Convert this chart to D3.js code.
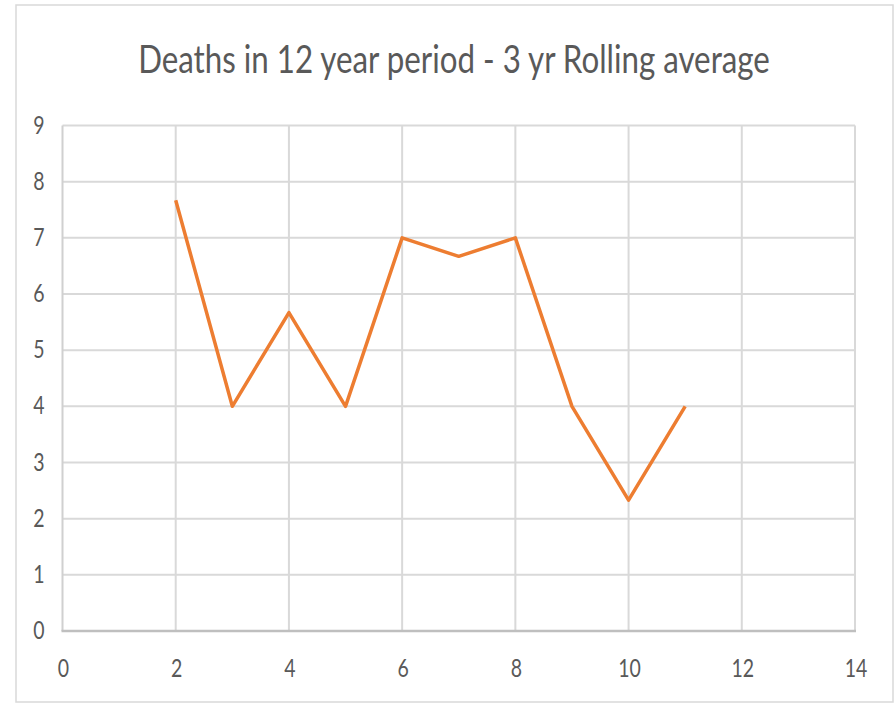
<!DOCTYPE html>
<html>
<head>
<meta charset="utf-8">
<script src="https://cdn.jsdelivr.net/npm/d3@7"></script>
<style>
  html, body { margin: 0; padding: 0; background: #fff; }
  svg { display: block; }
  text { font-family: Lato, "Open Sans", sans-serif; fill: #595959; }
</style>
</head>
<body>
<svg id="chart" width="894" height="704"></svg>
<script>
const titleText = "Deaths in 12 year period - 3 yr Rolling average";
const xValues = [2, 3, 4, 5, 6, 7, 8, 9, 10, 11];
const yValues = [7.67, 4, 5.67, 4, 7, 6.67, 7, 4, 2.33, 4];
const xTicks = [0, 2, 4, 6, 8, 10, 12, 14];
const yTicks = [0, 1, 2, 3, 4, 5, 6, 7, 8, 9];

const svg = d3.select("#chart");

// outer chart border
svg.append("rect")
  .attr("x", 16).attr("y", 5).attr("width", 877).attr("height", 697)
  .attr("fill", "#fff").attr("stroke", "#d9d9d9").attr("stroke-width", 1.5);

const x = d3.scaleLinear().domain([0, 14]).range([62.5, 855]);
const y = d3.scaleLinear().domain([0, 9]).range([631, 125.5]);

// horizontal gridlines
svg.append("g").selectAll("line")
  .data(yTicks.filter(d => d > 0))
  .join("line")
  .attr("x1", x(0)).attr("x2", x(14))
  .attr("y1", d => y(d)).attr("y2", d => y(d))
  .attr("stroke", "#d9d9d9").attr("stroke-width", 2);

// vertical gridlines
svg.append("g").selectAll("line")
  .data(xTicks.filter(d => d > 0))
  .join("line")
  .attr("x1", d => x(d)).attr("x2", d => x(d))
  .attr("y1", y(0)).attr("y2", y(9))
  .attr("stroke", "#d9d9d9").attr("stroke-width", 2);

// y axis line
svg.append("line")
  .attr("x1", x(0)).attr("x2", x(0)).attr("y1", y(0)).attr("y2", y(9))
  .attr("stroke", "#d0d0d0").attr("stroke-width", 2);

// x axis line
svg.append("line")
  .attr("x1", x(0) - 1).attr("x2", x(14) + 1).attr("y1", y(0)).attr("y2", y(0))
  .attr("stroke", "#bfbfbf").attr("stroke-width", 2.5);

// y tick labels
svg.append("g").selectAll("text")
  .data(yTicks)
  .join("text")
  .attr("transform", d => `translate(39, ${y(d) + 8}) scale(0.78, 1)`)
  .attr("text-anchor", "middle")
  .attr("font-size", 25)
  .text(d => d);

// x tick labels
svg.append("g").selectAll("text")
  .data(xTicks)
  .join("text")
  .attr("transform", d => `translate(${x(d) + 1}, 677) scale(0.78, 1)`)
  .attr("text-anchor", "middle")
  .attr("font-size", 25)
  .text(d => d);

// title
const title = svg.append("text")
  .attr("text-anchor", "middle")
  .attr("font-size", 38)
  .text(titleText);
const tw = title.node().getComputedTextLength();
const sx = 632 / tw;
title.attr("transform", `translate(454, 73) scale(${sx}, 1)`);

// line
const line = d3.line()
  .x((d, i) => x(xValues[i]))
  .y(d => y(d));

svg.append("path")
  .datum(yValues)
  .attr("d", line)
  .attr("fill", "none")
  .attr("stroke", "#ed7d31")
  .attr("stroke-width", 3.5)
  .attr("stroke-linejoin", "round");
</script>
</body>
</html>
